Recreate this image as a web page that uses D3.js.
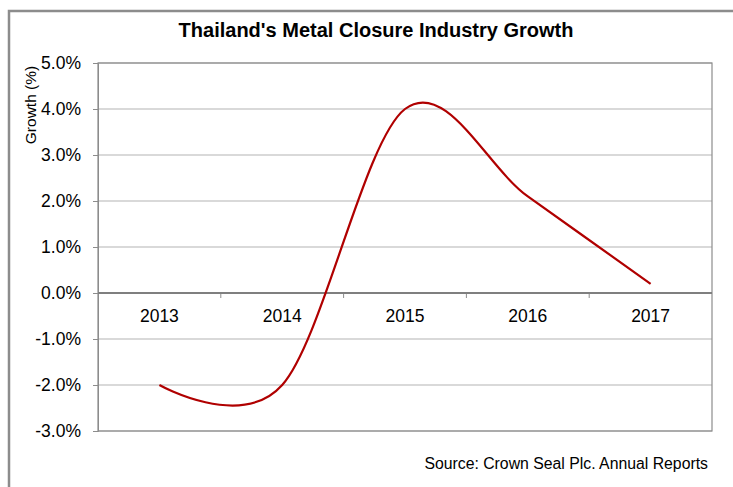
<!DOCTYPE html>
<html>
<head>
<meta charset="utf-8">
<script src="https://cdn.jsdelivr.net/npm/d3@7"></script>
<style>
  html, body { margin: 0; padding: 0; background: #fff; }
  svg { display: block; font-family: "Liberation Sans", Arial, sans-serif; }
</style>
</head>
<body>
<svg id="chart" width="733" height="487"></svg>
<script>
// Annual growth of the metal closure industry in Thailand
const years = ["2013", "2014", "2015", "2016", "2017"];
const growth = [-0.020, -0.020, 0.040, 0.021, 0.002];
const yTicks = [-0.03, -0.02, -0.01, 0, 0.01, 0.02, 0.03, 0.04, 0.05];

const svg = d3.select("#chart");
const W = 733, H = 487;
const plot = { left: 98, right: 712, top: 63, bottom: 431 };
const FONT = "Liberation Sans, Arial, sans-serif";
const pct = v => d3.format(".1f")(v * 100).replace("\u2212", "-") + "%";

// Outer chart frame
svg.append("rect")
  .attr("x", 9).attr("y", 11)
  .attr("width", W + 20).attr("height", H + 20)
  .attr("fill", "#fff").attr("stroke", "#8c8c8c").attr("stroke-width", 2.5);

svg.append("text")
  .attr("x", 376).attr("y", 37)
  .attr("text-anchor", "middle")
  .attr("font-size", 20).attr("font-weight", "bold")
  .attr("fill", "#000")
  .text("Thailand's Metal Closure Industry Growth");

const x = d3.scaleBand().domain(years).range([plot.left, plot.right]);
const y = d3.scaleLinear().domain([-0.03, 0.05]).range([plot.bottom, plot.top]);
const cx = d => x(d) + x.bandwidth() / 2;

// Horizontal gridlines
svg.append("g").selectAll("line")
  .data(yTicks.filter(v => v !== 0))
  .join("line")
  .attr("x1", plot.left).attr("x2", plot.right)
  .attr("y1", d => y(d)).attr("y2", d => y(d))
  .attr("stroke", "#b3b3b3").attr("stroke-width", 1);

// Plot area border
svg.append("rect")
  .attr("x", plot.left).attr("y", plot.top)
  .attr("width", plot.right - plot.left).attr("height", plot.bottom - plot.top)
  .attr("fill", "none").attr("stroke", "#8c8c8c").attr("stroke-width", 1.2);

// Y axis with percentage labels
const yAxis = d3.axisLeft(y).tickValues(yTicks)
  .tickFormat(pct).tickSize(5).tickPadding(12);
const gy = svg.append("g").attr("transform", `translate(${plot.left},0)`).call(yAxis);
gy.attr("font-size", null).attr("font-family", null);
gy.select(".domain").attr("stroke", "#8c8c8c");
gy.selectAll(".tick line").attr("stroke", "#8c8c8c");
gy.selectAll(".tick text")
  .attr("font-size", 17.5).attr("fill", "#000")
  .attr("font-family", FONT);

// Zero line acting as category axis, with ticks between categories
const gx = svg.append("g").attr("transform", `translate(0,${y(0)})`);
gx.selectAll("line.sep")
  .data(years.slice(1))
  .join("line")
  .attr("class", "sep")
  .attr("x1", d => x(d)).attr("x2", d => x(d))
  .attr("y1", 0).attr("y2", 5)
  .attr("stroke", "#8c8c8c").attr("stroke-width", 1);
gx.append("line")
  .attr("x1", plot.left).attr("x2", plot.right)
  .attr("y1", 0).attr("y2", 0)
  .attr("stroke", "#7f7f7f").attr("stroke-width", 2);
gx.selectAll("text")
  .data(years)
  .join("text")
  .attr("x", d => cx(d)).attr("y", 29)
  .attr("text-anchor", "middle")
  .attr("font-size", 17.5).attr("font-family", FONT).attr("fill", "#000")
  .text(d => d);

// Y axis title
svg.append("text")
  .attr("transform", "translate(36,105) rotate(-90)")
  .attr("text-anchor", "middle")
  .attr("font-size", 15.5).attr("fill", "#000")
  .text("Growth (%)");

// Smoothed growth line
const line = d3.line()
  .x((d, i) => cx(years[i]))
  .y(d => y(d))
  .curve(d3.curveCatmullRom.alpha(0));
svg.append("path")
  .datum(growth)
  .attr("d", line)
  .attr("fill", "none")
  .attr("stroke", "#b00000").attr("stroke-width", 2.2);

// Source note
svg.append("text")
  .attr("x", 708).attr("y", 469)
  .attr("text-anchor", "end")
  .attr("font-size", 15.8).attr("fill", "#000")
  .text("Source: Crown Seal Plc. Annual Reports");
</script>
</body>
</html>
